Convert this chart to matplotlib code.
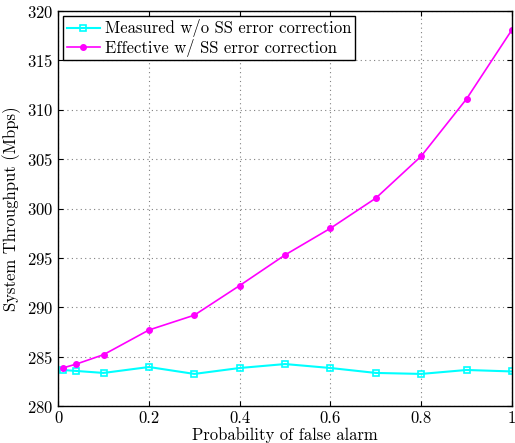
import matplotlib
matplotlib.use('Agg')
import matplotlib.pyplot as plt
import numpy as np

plt.rcParams['font.family'] = ['cmr10', 'DejaVu Serif']
plt.rcParams['axes.formatter.use_mathtext'] = True
plt.rcParams['mathtext.fontset'] = 'cm'

# Data
p_fa = [0.01, 0.04, 0.1, 0.2, 0.3, 0.4, 0.5, 0.6, 0.7, 0.8, 0.9, 1.0]
measured = [283.65, 283.55, 283.35, 283.95, 283.25, 283.85, 284.25, 283.85, 283.35, 283.25, 283.65, 283.5]
effective = [283.85, 284.25, 285.2, 287.7, 289.2, 292.2, 295.3, 298.0, 301.05, 305.3, 311.1, 318.1]

fig = plt.figure(figsize=(5.15, 4.43), dpi=100)
ax = fig.add_axes([0.113, 0.0835, 0.881, 0.8915])

ax.plot(p_fa, measured, color='cyan', marker='s', markersize=5, markerfacecolor='none',
        markeredgecolor='cyan', markeredgewidth=1.2, linewidth=1.5, label='Measured w/o SS error correction')
ax.plot(p_fa, effective, color='magenta', marker='o', markersize=4, linewidth=1.2,
        label='Effective w/ SS error correction')

ax.set_xlim(0, 1)
ax.set_ylim(280, 320)
ax.set_xticks([0, 0.2, 0.4, 0.6, 0.8, 1.0])
ax.set_xticklabels(['0', '0.2', '0.4', '0.6', '0.8', '1'])
ax.set_yticks(np.arange(280, 321, 5))
ax.grid(True, linestyle=(0, (1, 3)), color='gray', linewidth=0.8)
ax.tick_params(direction='in', top=True, right=True, labelsize=12)
for s in ax.spines.values():
    s.set_linewidth(1.0)

ax.set_xlabel('Probability of false alarm', fontsize=12, labelpad=1)
ax.set_ylabel('System Throughput (Mbps)', fontsize=12)

leg = ax.legend(loc='upper left', fontsize=12, fancybox=False, framealpha=1,
                edgecolor='black', borderpad=0.2, labelspacing=0.1, handlelength=2.0,
                handletextpad=0.3, borderaxespad=0.3)
leg.get_frame().set_linewidth(1.0)

fig.savefig('out.png', dpi=100)
